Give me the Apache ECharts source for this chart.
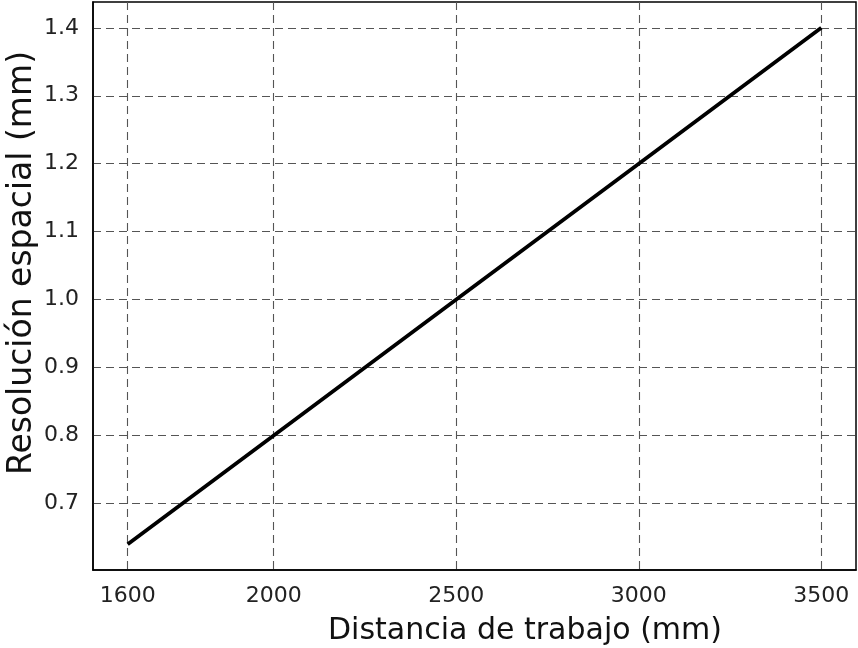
<!DOCTYPE html>
<html>

<head>
    <meta charset="utf-8">
    <script type="text/javascript" src="https://cdn.jsdelivr.net/npm/echarts@6/dist/echarts.min.js"></script>
    <style>
        html, body {
            margin: 0;
            padding: 0;
            background: #fff;
        }

        #container {
            width: 858px;
            height: 648px;
        }
    </style>
</head>

<body>
    <div id="container"></div>
</body>
<script type="text/javascript">
    // datos del grafico
    var distance = [1600, 2000, 2500, 3000, 3500];
    var resolution = [0.64, 0.80, 1.00, 1.20, 1.40];
    var xTicks = [1600, 2000, 2500, 3000, 3500];
    var yTicks = [0.7, 0.8, 0.9, 1.0, 1.1, 1.2, 1.3, 1.4];

    var xName = 'Distancia de trabajo (mm)';
    var yName = 'Resolución espacial (mm)';

    var font = '"DejaVu Sans", sans-serif';
    var gridLine = {
        show: true,
        lineStyle: {
            color: '#555',
            width: 1.1,
            type: [8, 5]
        }
    };

    function createEcharts() {
        var dom = document.getElementById('container');
        var myChart = echarts.init(dom, null, { renderer: 'canvas' });
        var points = distance.map(function (d, i) {
            return [d, resolution[i]];
        });
        var option = {
            animation: false,
            backgroundColor: '#fff',
            grid: {
                left: 93,
                right: 2,
                top: 2,
                bottom: 78,
                show: true,
                borderColor: '#000',
                borderWidth: 1.5,
                containLabel: false
            },
            xAxis: {
                type: 'value',
                min: 1505,
                max: 3595,
                axisLine: { show: true, onZero: false, lineStyle: { color: '#000', width: 1.5 } },
                axisTick: { show: false, customValues: xTicks },
                axisLabel: {
                    customValues: xTicks,
                    margin: 15,
                    fontSize: 22,
                    fontFamily: font,
                    color: '#222',
                    formatter: function (v) {
                        return String(v);
                    }
                },
                splitLine: gridLine
            },
            yAxis: {
                type: 'value',
                min: 0.602,
                max: 1.438,
                axisLine: { show: true, onZero: false, lineStyle: { color: '#000', width: 1.5 } },
                axisTick: { show: false, customValues: yTicks },
                axisLabel: {
                    customValues: yTicks,
                    margin: 14,
                    fontSize: 22,
                    fontFamily: font,
                    color: '#222',
                    formatter: function (v) {
                        return v.toFixed(1);
                    }
                },
                splitLine: gridLine
            },
            graphic: [{
                type: 'text',
                x: 525,
                y: 631,
                style: {
                    text: xName,
                    fontSize: 30,
                    fontFamily: font,
                    fill: '#111',
                    align: 'center',
                    verticalAlign: 'middle'
                }
            }, {
                type: 'text',
                x: 22,
                y: 263,
                rotation: Math.PI / 2,
                style: {
                    text: yName,
                    fontSize: 33,
                    fontFamily: font,
                    fill: '#111',
                    align: 'center',
                    verticalAlign: 'middle'
                }
            }],
            series: [{
                type: 'line',
                data: points,
                symbol: 'none',
                lineStyle: { color: '#000', width: 3.8 }
            }]
        };
        myChart.setOption(option, true);
    }

    createEcharts();
</script>

</html>
